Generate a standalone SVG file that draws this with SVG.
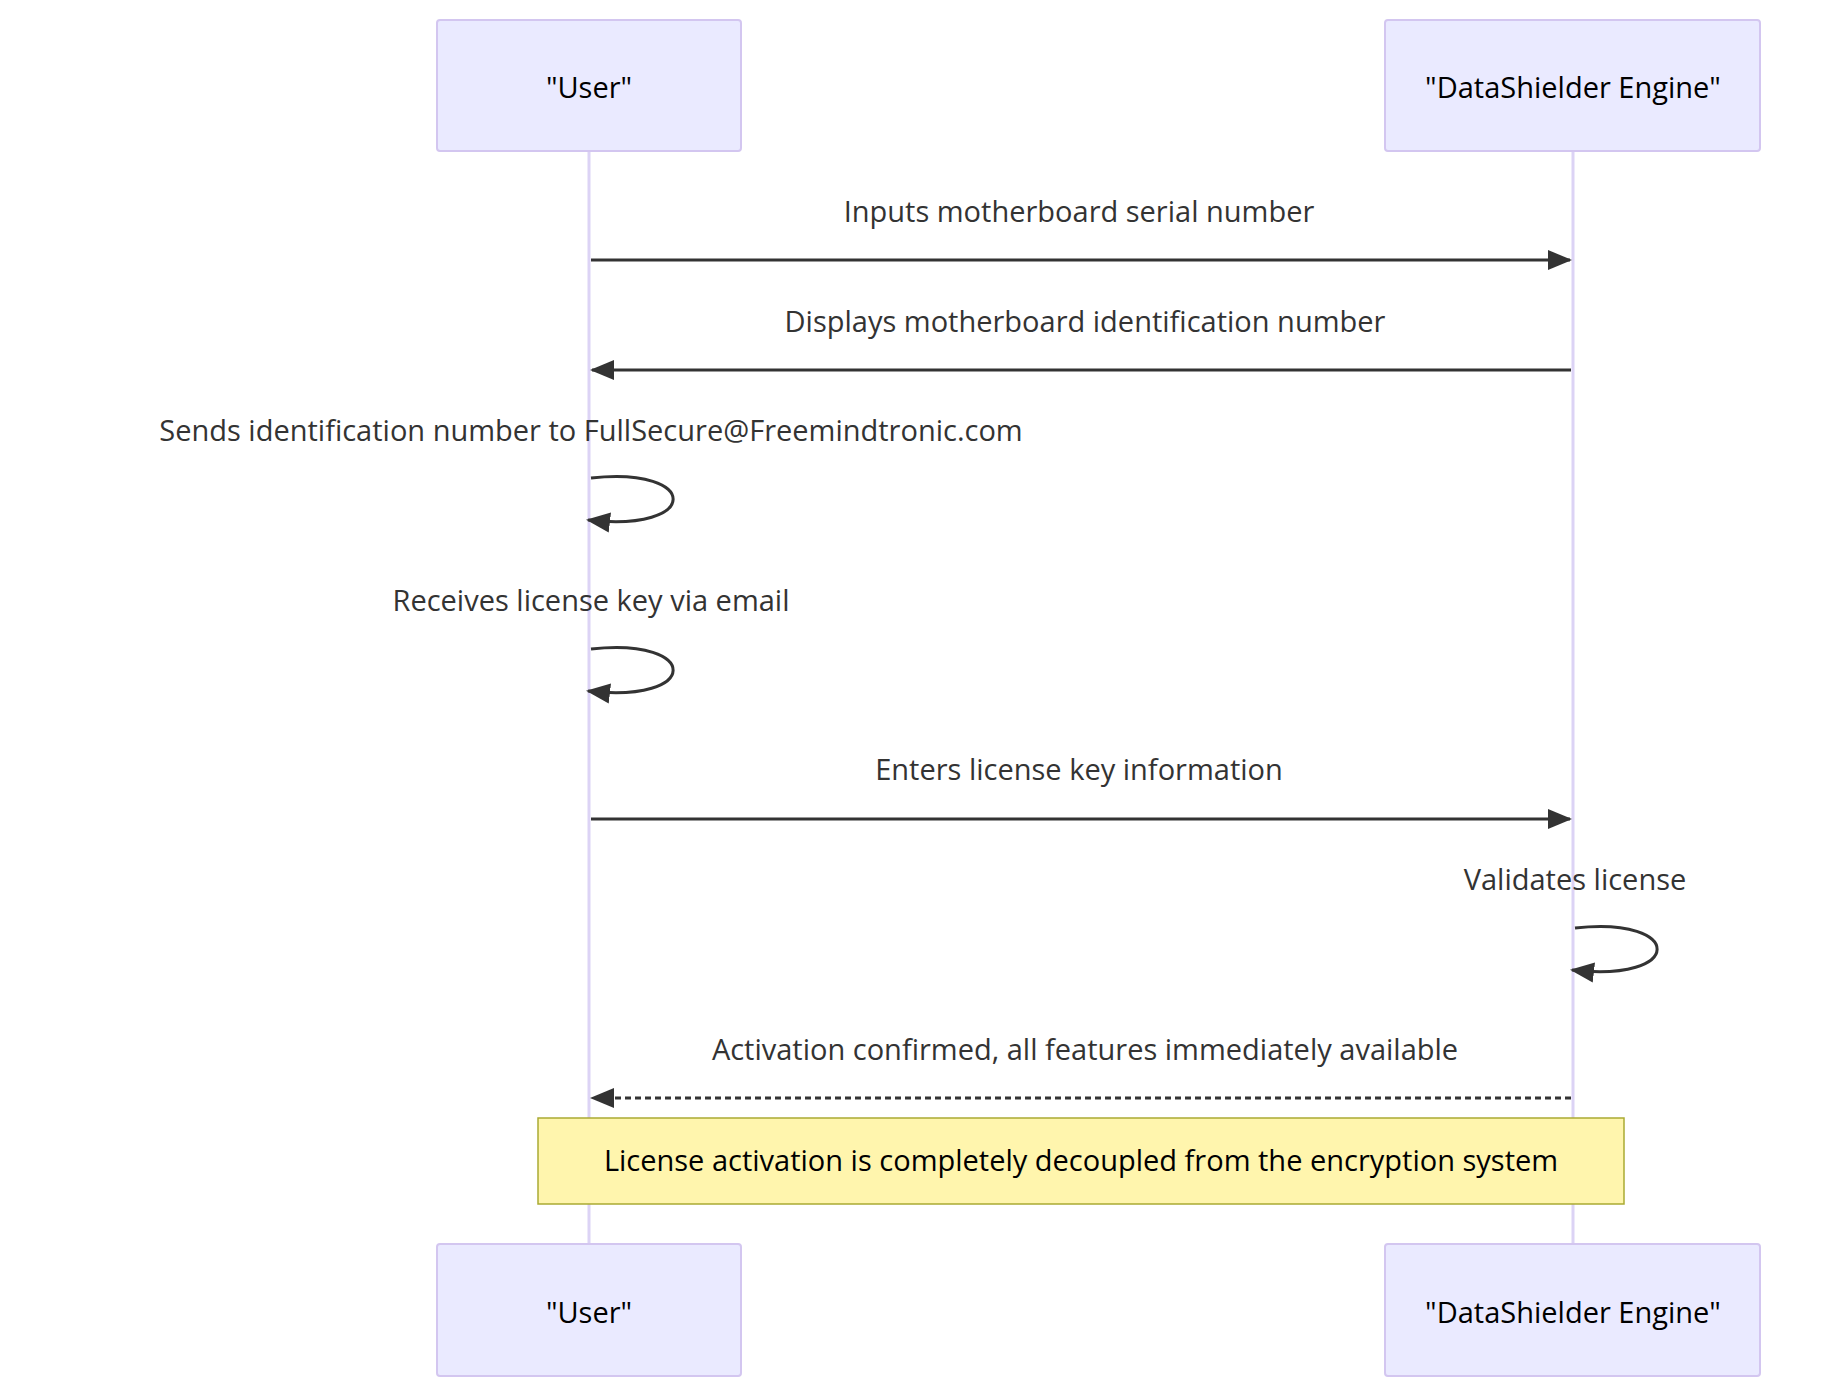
<svg xmlns="http://www.w3.org/2000/svg" width="1840" height="1382" viewBox="0 0 1840 1382">
<style>
.actor{fill:#eaeaff;stroke:#d3c6f0;stroke-width:2}
.life{stroke:#dcd3f5;stroke-width:3}
text{font-family:"Open Sans","Liberation Sans",sans-serif;font-size:29px;fill:#333;text-anchor:middle}
.at{fill:#000;dominant-baseline:central}
.msg{stroke:#333;stroke-width:3;fill:none}
</style>
<defs>
<marker id="ah" markerWidth="12" markerHeight="12" refX="11" refY="6" orient="auto" markerUnits="userSpaceOnUse" viewBox="0 0 12 12"><path d="M0,0 L12,6 L0,12 z" fill="#333"/></marker>
<marker id="ahs" markerWidth="24" markerHeight="24" refX="22" refY="12" orient="auto" markerUnits="userSpaceOnUse" viewBox="0 0 24 24"><path d="M0,2 L24,12 L0,22 z" fill="#333"/></marker>
</defs>
<rect width="1840" height="1382" fill="#fff"/>
<g id="lifelines">
<line class="life" x1="589" y1="151" x2="589" y2="1244"/>
<line class="life" x1="1573" y1="151" x2="1573" y2="1244"/>
</g>
<g id="user-top"><rect class="actor" x="437" y="20" width="304" height="131" rx="3"/><text class="at" x="589" y="86">"User"</text></g>
<g id="engine-top"><rect class="actor" x="1385" y="20" width="375" height="131" rx="3"/><text class="at" x="1573" y="86">"DataShielder Engine"</text></g>
<g id="user-bottom"><rect class="actor" x="437" y="1244" width="304" height="132" rx="3"/><text class="at" x="589" y="1311">"User"</text></g>
<g id="engine-bottom"><rect class="actor" x="1385" y="1244" width="375" height="132" rx="3"/><text class="at" x="1573" y="1311">"DataShielder Engine"</text></g>
<g id="connectors">
<text x="1079" y="222">Inputs motherboard serial number</text>
<line class="msg" x1="591" y1="260" x2="1570" y2="260" marker-end="url(#ahs)"/>
<text x="1085" y="332">Displays motherboard identification number</text>
<line class="msg" x1="1571" y1="370" x2="592" y2="370" marker-end="url(#ahs)"/>
<text x="591" y="441">Sends identification number to FullSecure@Freemindtronic.com</text>
<path class="msg" d="M591,478 C701,466 701,533 588,520" marker-end="url(#ahs)"/>
<text x="591" y="611">Receives license key via email</text>
<path class="msg" d="M591,649 C701,637 701,704 588,691" marker-end="url(#ahs)"/>
<text x="1079" y="780">Enters license key information</text>
<line class="msg" x1="591" y1="819" x2="1570" y2="819" marker-end="url(#ahs)"/>
<text x="1575" y="890">Validates license</text>
<path class="msg" d="M1575,928 C1685,916 1685,983 1572,970" marker-end="url(#ahs)"/>
<text x="1085" y="1060">Activation confirmed, all features immediately available</text>
<line class="msg" x1="1571" y1="1098" x2="592" y2="1098" stroke-dasharray="6,4" marker-end="url(#ahs)"/>
</g>
<g id="note">
<rect x="538" y="1118" width="1086" height="86" fill="#fff5ad" stroke="#aaaa33" stroke-width="1.5"/>
<text class="at" x="1081" y="1159" style="fill:#000">License activation is completely decoupled from the encryption system</text>
</g>
</svg>
